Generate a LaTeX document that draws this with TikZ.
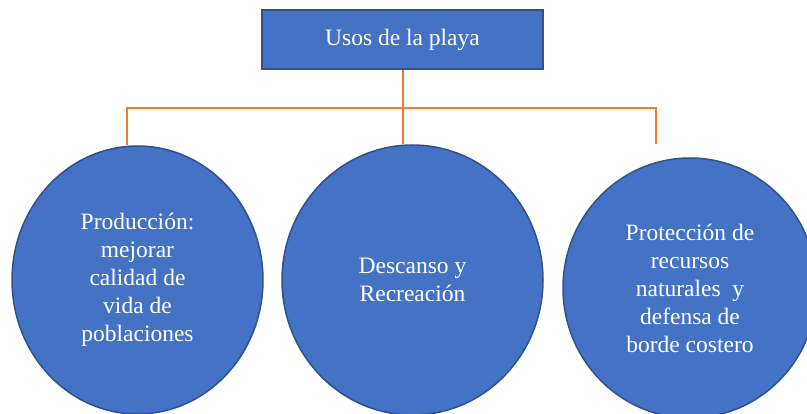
\documentclass[tikz,border=0pt]{standalone}
\usepackage{fontspec}
\setmainfont{Liberation Serif}
\usetikzlibrary{shapes.geometric}
\definecolor{offblue}{HTML}{4472C4}
\definecolor{darkblue}{HTML}{2F528F}
\definecolor{offorange}{HTML}{ED7D31}
\begin{document}
\begin{tikzpicture}[x=1pt,y=-1pt,
  txt/.style={text=white,font=\fontsize{23.5}{28}\selectfont,align=center},
  topbox/.style={txt,rectangle,draw=darkblue,line width=1.5pt,fill=offblue,minimum width=281pt,minimum height=59pt,inner sep=0pt},
  usebubble/.style={txt,ellipse,draw=darkblue,line width=1.5pt,fill=offblue,inner sep=0pt},
  link/.style={draw=offorange,line width=2pt}]
\useasboundingbox (0,0) rectangle (807,414);
\clip (0,0) rectangle (807,414);
\node[topbox] (top) at (402.5,39.5) {Usos de la playa};
\node[usebubble,minimum width=251pt,minimum height=268pt] (left) at (137.5,280) {Producción:\\mejorar\\calidad de\\vida de\\poblaciones};
\node[usebubble,minimum width=261pt,minimum height=270pt] (mid) at (412.5,280) {Descanso y\\Recreación};
\node[usebubble,minimum width=254pt,minimum height=260pt] (right) at (690,288) {Protección de\\recursos\\naturales \ y\\defensa de\\borde costero};
\coordinate (jl) at (127,108.5);
\coordinate (jr) at (656,108.5);
\coordinate (re) at (656,144);
\draw[link] (top.south) -- (top.south |- mid.north);
\draw[link] (jl |- left.north) -- (jl) -- (jr) -- (re);
\end{tikzpicture}
\end{document}
